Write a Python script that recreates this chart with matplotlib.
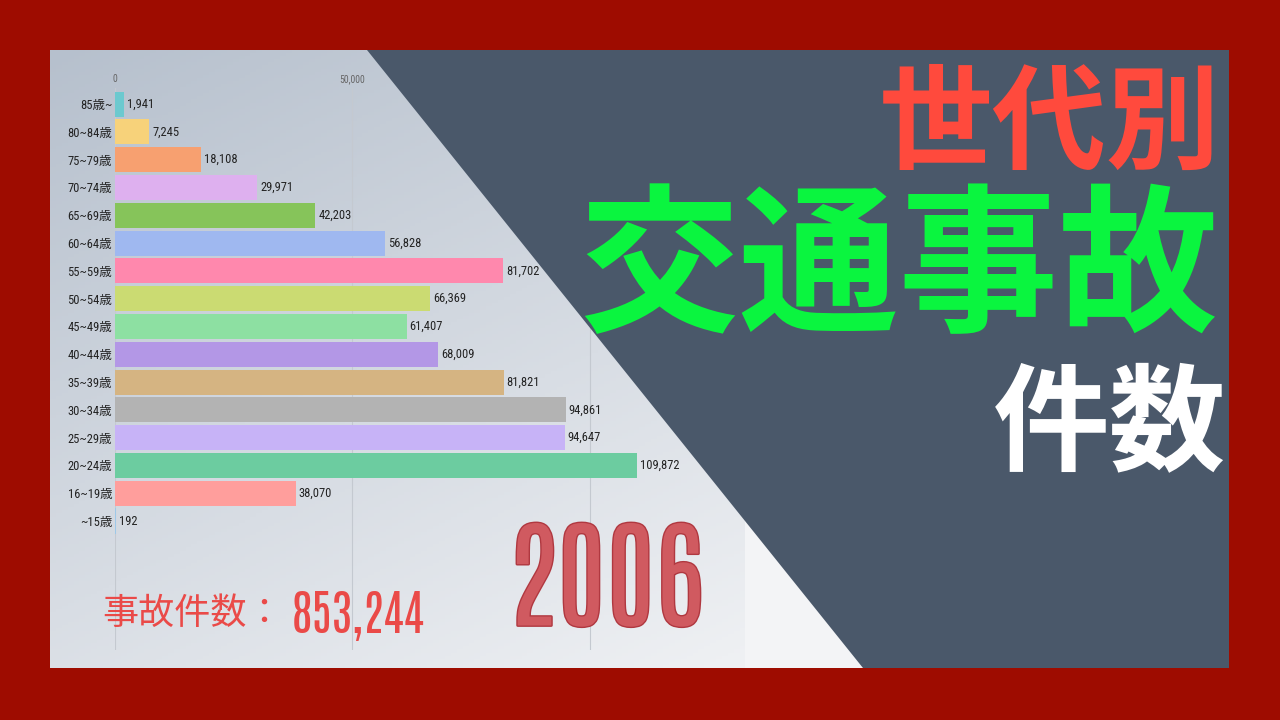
import numpy as np
import matplotlib
matplotlib.use("Agg")
import matplotlib.pyplot as plt
from matplotlib.patches import Polygon, Rectangle
from matplotlib.ticker import FuncFormatter
import matplotlib.patheffects as pe

# ---- data ----
categories = ["85歳~", "80~84歳", "75~79歳", "70~74歳", "65~69歳", "60~64歳",
              "55~59歳", "50~54歳", "45~49歳", "40~44歳", "35~39歳", "30~34歳",
              "25~29歳", "20~24歳", "16~19歳", "~15歳"]
values = [1941, 7245, 18108, 29971, 42203, 56828, 81702, 66369, 61407, 68009,
          81821, 94861, 94647, 109872, 38070, 192]
bar_colors = ["#6cc9cf", "#f7d27a", "#f7a070", "#deb0ef", "#86c45a", "#9fb8f0",
              "#ff88ad", "#cbdb72", "#8de0a2", "#b397e6", "#d5b482", "#b3b3b3",
              "#c7b3f7", "#6ccca0", "#ff9e9c", "#9ec8e8"]
x_ticks = [0, 50000, 100000]
year = "2006"
total_label = "事故件数："
total_value = 853244

CJK = ["Noto Sans CJK JP", "DejaVu Sans"]
COND = ["Roboto Condensed", "Noto Sans CJK JP", "DejaVu Sans"]
BIG = ["Antonio", "Oswald", "Roboto Condensed", "DejaVu Sans"]
plt.rcParams["font.family"] = CJK

fig = plt.figure(figsize=(12.8, 7.2), dpi=100)
fig.patch.set_facecolor("#9e0c00")

# ---- background layer (pixel coords) ----
bg = fig.add_axes([0, 0, 1, 1], zorder=0)
bg.set_xlim(0, 1280)
bg.set_ylim(720, 0)
bg.axis("off")
gx, gy = np.meshgrid(np.linspace(0, 1, 200), np.linspace(0, 1, 200))
t = np.clip(0.55 * gx + 0.6 * gy, 0, 1)
c0 = np.array([0xb6, 0xc0, 0xcd]) / 255
c1 = np.array([0xf4, 0xf5, 0xf7]) / 255
grad = c0[None, None, :] * (1 - t[..., None]) + c1[None, None, :] * t[..., None]
bg.imshow(grad, extent=[50, 1229, 668, 50], aspect="auto", zorder=0)
bg.add_patch(Rectangle((745, 480), 130, 188, color="#f3f4f6", zorder=1, lw=0))

# ---- chart ----
ax = fig.add_axes([115 / 1280, 1 - 650 / 720, 630 / 1280, 562 / 720], zorder=1)
ax.patch.set_alpha(0)
n = len(categories)
y = np.arange(n)
ax.barh(y, values, height=0.9, color=bar_colors, zorder=2)
ax.set_xlim(0, 132632)
ax.set_ylim(19.64, -0.576)
ax.xaxis.tick_top()
ax.set_xticks(x_ticks)
ax.xaxis.set_major_formatter(FuncFormatter(lambda v, p: f"{int(v):,}"))
ax.tick_params(axis="x", length=0, labelsize=7, labelcolor="#666666", pad=3)
for lab in ax.get_xticklabels():
    lab.set_family(COND)
ax.set_yticks(y)
ax.set_yticklabels(categories, fontsize=9, color="#222222", family=COND)
ax.tick_params(axis="y", length=0, pad=2)
ax.grid(axis="x", color="#c4c9d0", lw=0.8, zorder=0)
for s in ax.spines.values():
    s.set_visible(False)
for i, v in enumerate(values):
    ax.annotate(f"{v:,}", (v, i), xytext=(2, 0), textcoords="offset points",
                va="center", ha="left", fontsize=9, color="#222222",
                family=COND)

# ---- overlay layer ----
ov = fig.add_axes([0, 0, 1, 1], zorder=3)
ov.set_xlim(0, 1280)
ov.set_ylim(720, 0)
ov.axis("off")
ov.patch.set_alpha(0)
ov.add_patch(Polygon([(367, 50), (1229, 50), (1229, 668), (863, 668)],
                     closed=True, color="#4a586a", lw=0))

ov.text(1220, 126, "世代別", fontsize=82, fontweight="bold", color="#ff4a3d",
        ha="right", va="center", family=CJK)
ov.text(1218, 272, "交通事故", fontsize=115, fontweight="bold", color="#0af53f",
        ha="right", va="center", family=CJK)
ov.text(1226, 428, "件数", fontsize=84, fontweight="bold", color="#ffffff",
        ha="right", va="center", family=CJK)

ov.text(606, 582, year, fontsize=85, color="#d05a60", ha="center", va="center",
        family=BIG,
        path_effects=[pe.withStroke(linewidth=2, foreground="#b03840")])
ov.text(102, 614, total_label, fontsize=26, color="#ea4a48",
        ha="left", va="center", family=CJK)
ov.text(292, 616, f"{total_value:,}", fontsize=35, color="#ea4a48",
        ha="left", va="center", family=BIG)

fig.savefig("out.png", dpi=100, facecolor=fig.get_facecolor())
